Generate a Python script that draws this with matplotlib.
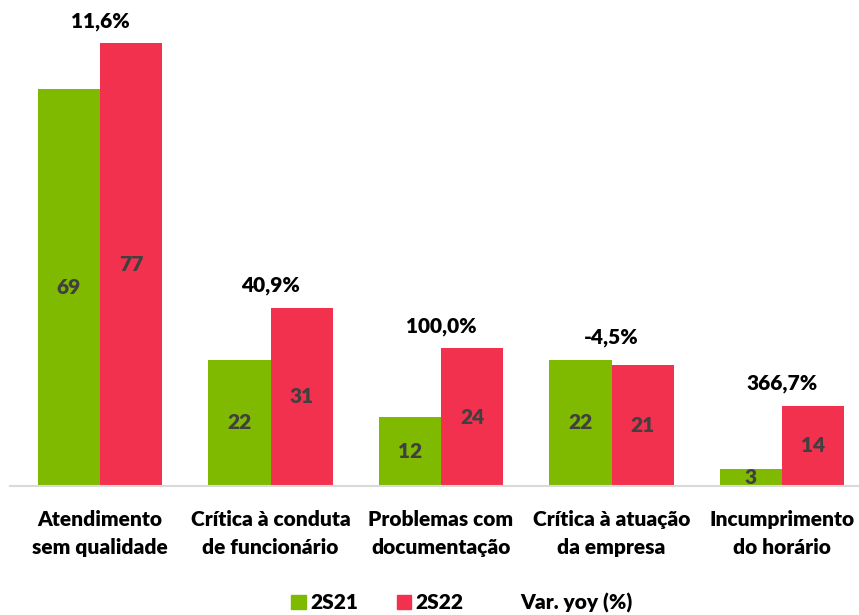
import matplotlib.pyplot as plt
from matplotlib.patches import Patch
from matplotlib.lines import Line2D
import numpy as np

plt.rcParams['font.family'] = ['Lato', 'DejaVu Sans']

categories = ['Atendimento\nsem qualidade', 'Crítica à conduta\nde funcionário',
              'Problemas com\ndocumentação', 'Crítica à atuação\nda empresa',
              'Incumprimento\ndo horário']
vals_2s21 = [69, 22, 12, 22, 3]
vals_2s22 = [77, 31, 24, 21, 14]
var_yoy = ['11,6%', '40,9%', '100,0%', '-4,5%', '366,7%']

green = '#7FBA00'
red = '#F2314F'
fs = 15
wt = 'heavy'

fig = plt.figure(figsize=(8.59, 6.15), dpi=100)
ax = fig.add_axes([10 / 859, 129 / 615, 849 / 859, 486 / 615])

x = np.arange(len(categories))
w = 0.364
b1 = ax.bar(x - w / 2, vals_2s21, w, color=green)
b2 = ax.bar(x + w / 2, vals_2s22, w, color=red)

for bars in (b1, b2):
    for b in bars:
        h = b.get_height()
        ax.text(b.get_x() + b.get_width() / 2, h / 2, str(int(h)), ha='center', va='center',
                fontsize=fs, fontweight=wt, color='#404040')

for i, lab in enumerate(var_yoy):
    top = max(vals_2s21[i], vals_2s22[i])
    ax.text(x[i], top + 3.8, lab, ha='center', va='center', fontsize=fs,
            fontweight=wt, color='black')

ax.set_xlim((10 - 100) / 170.5, (859 - 100) / 170.5)
ax.set_ylim(0, 486 / 5.75)
ax.set_yticks([])
ax.set_xticks(x)
ax.set_xticklabels(categories, fontsize=fs, fontweight=wt, linespacing=1.6)
ax.tick_params(axis='x', length=0, pad=17)
for s in ['top', 'right', 'left']:
    ax.spines[s].set_visible(False)
ax.spines['bottom'].set_color('#D9D9D9')
ax.spines['bottom'].set_linewidth(1.5)

handles = [Patch(color=green), Patch(color=red), Line2D([], [], color='none')]
fig.legend(handles, ['2S21', '2S22', 'Var. yoy (%)'], loc='center', bbox_to_anchor=(0.538, 0.02),
           ncol=3, frameon=False, prop={'size': fs, 'weight': wt}, handlelength=0.7,
           handleheight=0.7, handletextpad=0.2, columnspacing=1.85)

fig.savefig('out.png', dpi=100)
